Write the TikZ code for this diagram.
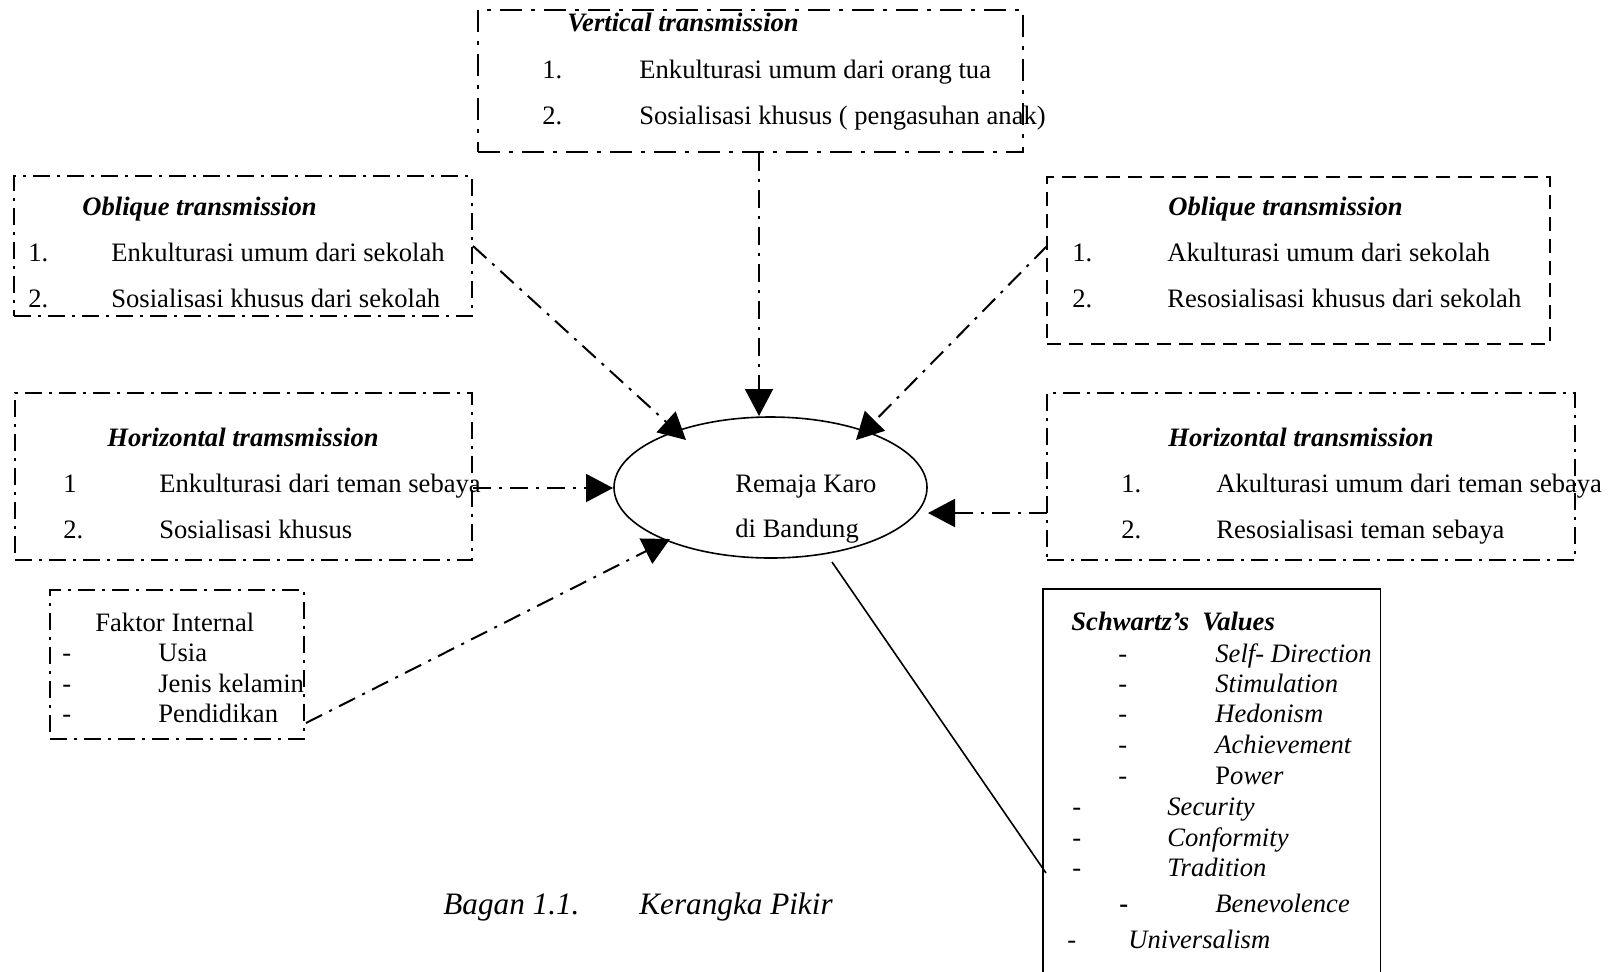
\documentclass[tikz,border=0pt]{standalone}
\usepackage{fontspec}
\setmainfont{Liberation Serif}
\usetikzlibrary{arrows.meta,shapes.geometric}
\begin{document}
\begin{tikzpicture}[x=0.5pt,y=-0.5pt,
  font=\fontsize{13.3pt}{16pt}\selectfont,
  txt/.style={anchor=base west, inner sep=0pt},
  hd/.style={txt, font=\fontsize{13.3pt}{16pt}\selectfont\bfseries\itshape},
  it/.style={txt, font=\fontsize{13.3pt}{16pt}\selectfont\itshape},
  captxt/.style={txt, font=\fontsize{15.6pt}{18pt}\selectfont\itshape},
  boxbase/.style={draw, line width=1pt, inner sep=0pt},
  dotbox/.style={boxbase, dash pattern=on 8.5pt off 3.5pt on 1.5pt off 3.5pt},
  topbox/.style={boxbase, dash pattern=on 11pt off 4.5pt on 2pt off 4.5pt},
  dashbox/.style={boxbase, dash pattern=on 7pt off 4pt},
  conn/.style={line width=1pt, dash pattern=on 9pt off 4pt on 1.5pt off 4pt,
    -{Triangle[length=13.5pt,width=14pt]}},
  plain/.style={line width=0.8pt}]
\useasboundingbox (0,0) rectangle (1608,971);
\fill[white] (0,0) rectangle (1608,971);

% boxes
\node[topbox, minimum width=272.5pt, minimum height=71pt] (vbox) at (750.5,81) {};
\node[dotbox, minimum width=229pt, minimum height=70pt] (lobl) at (243,246) {};
\node[dashbox, minimum width=251.5pt, minimum height=83.5pt] (robl) at (1298.5,260.5) {};
\node[dotbox, minimum width=228.5pt, minimum height=83.5pt] (lhor) at (243.5,476.5) {};
\node[dotbox, minimum width=264pt, minimum height=83.5pt] (rhor) at (1311,476.5) {};
\node[dotbox, minimum width=127pt, minimum height=74.5pt] (fak) at (177,664.5) {};
\node[inner sep=0pt, minimum width=168.5pt, minimum height=193pt] (sch) at (1211.5,782) {};
\draw[line width=0.9pt] (sch.south west) -- (sch.north west) -- (sch.north east) -- (sch.south east);

% ellipse
\node[ellipse, draw, line width=0.8pt, minimum width=156.5pt, minimum height=70.5pt, inner sep=0pt] (ell) at (770.5,487.5) {};
\node[txt] (e1) at (735,492) {Remaja Karo};
\node[txt] (e2) at (735,537) {di Bandung};

% vertical box text
\node[hd] (v0) at (567,31) {Vertical transmission};
\node[txt] (v1n) at (542,78) {1.};
\node[txt] (v1) at (639,78) {Enkulturasi umum dari orang tua};
\node[txt] (v2n) at (542,124) {2.};
\node[txt] (v2) at (639,124) {Sosialisasi khusus ( pengasuhan anak)};

% left oblique
\node[hd] (lo0) at (82,215) {Oblique transmission};
\node[txt] (lo1n) at (28,261) {1.};
\node[txt] (lo1) at (111,261) {Enkulturasi umum dari sekolah};
\node[txt] (lo2n) at (28,307) {2.};
\node[txt] (lo2) at (111,307) {Sosialisasi khusus dari sekolah};

% right oblique
\node[hd] (ro0) at (1168,215) {Oblique transmission};
\node[txt] (ro1n) at (1072,261) {1.};
\node[txt] (ro1) at (1167,261) {Akulturasi umum dari sekolah};
\node[txt] (ro2n) at (1072,307) {2.};
\node[txt] (ro2) at (1167,307) {Resosialisasi khusus dari sekolah};

% left horizontal
\node[hd] (lh0) at (107,446) {Horizontal tramsmission};
\node[txt] (lh1n) at (63,492) {1};
\node[txt] (lh1) at (159,492) {Enkulturasi dari teman sebaya};
\node[txt] (lh2n) at (63,538) {2.};
\node[txt] (lh2) at (159,538) {Sosialisasi khusus};

% right horizontal
\node[hd] (rh0) at (1168,446) {Horizontal transmission};
\node[txt] (rh1n) at (1121,492) {1.};
\node[txt] (rh1) at (1216,492) {Akulturasi umum dari teman sebaya};
\node[txt] (rh2n) at (1121,538) {2.};
\node[txt] (rh2) at (1216,538) {Resosialisasi teman sebaya};

% faktor internal
\node[txt] (f0) at (95,631) {Faktor Internal};
\node[txt] (f1n) at (62,661) {-};
\node[txt] (f1) at (158,661) {Usia};
\node[txt] (f2n) at (62,692) {-};
\node[txt] (f2) at (158,692) {Jenis kelamin};
\node[txt] (f3n) at (62,722) {-};
\node[txt] (f3) at (158,722) {Pendidikan};

% Schwartz
\node[hd] (s0) at (1071,630) {Schwartz’s\ \ Values};
\node[txt] (s1n) at (1118,662) {-};
\node[it] (s1) at (1215,662) {Self- Direction};
\node[txt] (s2n) at (1118,692) {-};
\node[it] (s2) at (1215,692) {Stimulation};
\node[txt] (s3n) at (1118,722) {-};
\node[it] (s3) at (1215,722) {Hedonism};
\node[txt] (s4n) at (1118,753) {-};
\node[it] (s4) at (1215,753) {Achievement};
\node[txt] (s5n) at (1118,784) {-};
\node[txt] (s5) at (1215,784) {P\textit{ower}};
\node[txt] (s6n) at (1072,815) {-};
\node[it] (s6) at (1167,815) {Security};
\node[txt] (s7n) at (1072,846) {-};
\node[it] (s7) at (1167,846) {Conformity};
\node[txt] (s8n) at (1072,876) {-};
\node[it] (s8) at (1167,876) {Tradition};
\node[txt] (s9n) at (1119,912) {\textbf{-}};
\node[it] (s9) at (1215,912) {Benevolence};
\node[txt] (s10n) at (1067,948) {-};
\node[it] (s10) at (1128,948) {Universalism};

% caption
\node[captxt] (c1) at (443,914) {Bagan 1.1.};
\node[captxt] (c2) at (639,914) {Kerangka Pikir};

% connector end points
\coordinate (tV) at (759,416);
\coordinate (tLO) at (686,440);
\coordinate (sRO) at (1047,246);
\coordinate (tRO) at (856,440);
\coordinate (tLH) at (613,488);
\coordinate (sRH) at (1047,513);
\coordinate (tRH) at (928,513);
\coordinate (sFI) at (306,723);
\coordinate (tFI) at (670,539);
\coordinate (sS) at (832,562);
\coordinate (tS) at (1046,873);

\draw[conn] (vbox.south -| tV) -- (tV);
\draw[conn] (lobl.east) -- (tLO);
\draw[conn] (sRO) -- (tRO);
\draw[conn] (lhor.east |- tLH) -- (tLH);
\draw[conn] (sRH) -- (tRH);
\draw[conn] (sFI) -- (tFI);
\draw[plain] (sS) -- (tS);
\end{tikzpicture}
\end{document}
